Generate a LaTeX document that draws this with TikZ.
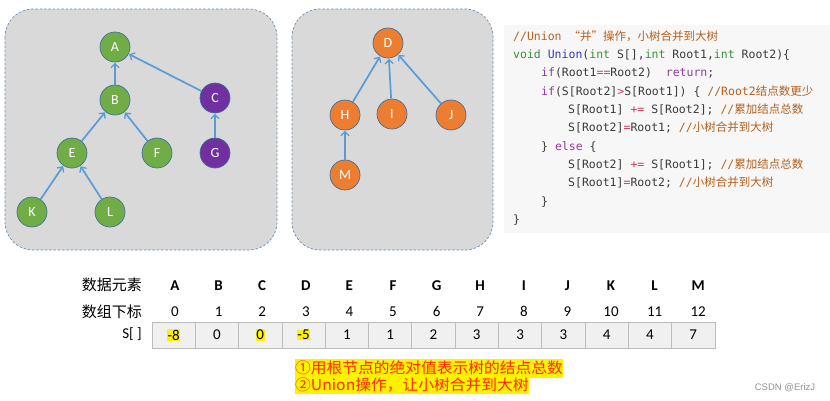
\documentclass[tikz,border=0pt]{standalone}
\usepackage{fontspec}
\setmainfont{Carlito}
\setmonofont{DejaVu Sans Mono}
\newfontfamily\cjkf{Noto Sans CJK SC}
\newfontfamily\cjkwide[FakeStretch=1.05]{Noto Sans CJK SC}
\newfontfamily\lsans{Liberation Sans}
\usetikzlibrary{arrows.meta}
\definecolor{panelfill}{HTML}{D9D9D9}
\definecolor{paneldraw}{HTML}{6A8DB5}
\definecolor{ngreen}{HTML}{70AD47}
\definecolor{npurple}{HTML}{7030A0}
\definecolor{norange}{HTML}{ED7D31}
\definecolor{nborder}{HTML}{41719C}
\definecolor{edgeblue}{HTML}{5B9BD5}
\definecolor{codebg}{HTML}{F7F7F7}
\definecolor{ctext}{HTML}{3A3A3A}
\definecolor{cgreen}{HTML}{3A8F3A}
\definecolor{cpurple}{HTML}{8E3B9E}
\definecolor{cblue}{HTML}{3535C8}
\definecolor{cred}{HTML}{D03A5C}
\definecolor{cbrown}{HTML}{B4601E}
\definecolor{cellfill}{HTML}{F0F0F0}
\definecolor{cellline}{HTML}{BDBDBD}
\definecolor{notered}{HTML}{FF2A00}
\newcommand\kwT[1]{\textcolor{cgreen}{#1}}
\newcommand\kwC[1]{\textcolor{cpurple}{#1}}
\newcommand\fnN[1]{\textcolor{cblue}{#1}}
\newcommand\opR[1]{\textcolor{cred}{#1}}
\newcommand\cmT[1]{\textcolor{cbrown}{#1}}
\newcommand\hlY[1]{{\setlength\fboxsep{0.6pt}\colorbox{yellow}{#1}}}
\tikzset{
  panel/.style={fill=panelfill, draw=paneldraw, line width=0.7pt, dash pattern=on 2.5pt off 1.8pt, rounded corners=28pt},
  tnode/.style={circle, minimum size=30pt, inner sep=0pt, draw=nborder, line width=0.7pt, text=white, font=\fontsize{14}{14}\selectfont},
  gnode/.style={tnode, fill=ngreen},
  pnode/.style={tnode, fill=npurple},
  onode/.style={tnode, fill=norange},
  edge/.style={draw=edgeblue, line width=1.7pt, -{Straight Barb[length=4pt,width=8pt,line width=1.3pt]}, shorten >=0.5pt},
  codeline/.style={anchor=west, inner sep=0pt, text=ctext, text height=9pt, text depth=3pt, font=\ttfamily\fontsize{11.5}{13}\selectfont},
  lbl/.style={anchor=east, inner sep=0pt, text=black, font=\cjkf\fontsize{15}{16}\selectfont},
  hdr/.style={inner sep=0pt, text height=10pt, text depth=0pt, font=\bfseries\fontsize{15}{15}\selectfont},
  idx/.style={inner sep=0pt, text height=10pt, text depth=0pt, font=\fontsize{15}{15}\selectfont},
  cell/.style={draw=cellline, fill=cellfill, line width=0.7pt, minimum width=43.3pt, minimum height=26pt, inner sep=0pt, font=\fontsize{15}{15}\selectfont},
  note/.style={anchor=west, fill=yellow, inner xsep=0pt, inner ysep=0pt, text=notered, font=\cjkwide\fontsize{15}{16}\selectfont},
  csdn/.style={inner sep=0pt, text=gray!85, font=\lsans\fontsize{9.5}{10}\selectfont}
}
\begin{document}
\begin{tikzpicture}[x=1pt,y=-1pt]
\useasboundingbox (0,0) rectangle (830,400);
\fill[white] (0,0) rectangle (830,400);
% panels
\draw[panel] (5,9) rectangle (277,250);
\draw[panel] (292,9) rectangle (493,250);
% left tree
\node[gnode] (A) at (115,47) {A};
\node[gnode] (B) at (115,100) {B};
\node[pnode] (C) at (215,98) {C};
\node[gnode] (E) at (72,153) {E};
\node[gnode] (F) at (157,153) {F};
\node[pnode] (G) at (215,153) {G};
\node[gnode] (K) at (32,212) {K};
\node[gnode] (L) at (110,212) {L};
\draw[edge] (B) -- (A);
\draw[edge] (C) -- (A);
\draw[edge] (E) -- (B);
\draw[edge] (F) -- (B);
\draw[edge] (G) -- (C);
\draw[edge] (K) -- (E);
\draw[edge] (L) -- (E);
% right tree
\node[onode] (D) at (388,43) {D};
\node[onode] (H) at (345,115) {H};
\node[onode] (I) at (392,114) {I};
\node[onode] (J) at (451,115) {J};
\node[onode] (M) at (345,175) {M};
\draw[edge] (H) -- (D);
\draw[edge] (I) -- (D);
\draw[edge] (J) -- (D);
\draw[edge] (M) -- (H);
% code
\fill[codebg] (504,25) rectangle (830,233);
\node[codeline] (l1) at (513,37) {\cmT{//Union {\cjkf “并”操作，小树合并到大树}}};
\node[codeline] (l2) at (513,55) {\kwT{void} \fnN{Union}(\kwT{int} S[],\kwT{int} Root1,\kwT{int} Root2)\{};
\node[codeline] (l3) at (541,73.5) {\kwC{if}(Root1\opR{==}Root2)\ \ \kwC{return};};
\node[codeline] (l4) at (541,92) {\kwC{if}(S[Root2]\opR{>}S[Root1]) \{ \cmT{//Root2{\cjkf 结点数更少}}};
\node[codeline] (l5) at (568,110) {S[Root1] \opR{+=} S[Root2]; \cmT{//{\cjkf 累加结点总数}}};
\node[codeline] (l6) at (568,128.5) {S[Root2]\opR{=}Root1; \cmT{//{\cjkf 小树合并到大树}}};
\node[codeline] (l7) at (541,147) {\} \kwC{else} \{};
\node[codeline] (l8) at (568,165) {S[Root2] \opR{+=} S[Root1]; \cmT{//{\cjkf 累加结点总数}}};
\node[codeline] (l9) at (568,183.5) {S[Root1]\opR{=}Root2; \cmT{//{\cjkf 小树合并到大树}}};
\node[codeline] (l10) at (541,202) {\}};
\node[codeline] (l11) at (513,220) {\}};
% table
\node[lbl] (r1) at (142,285) {数据元素};
\node[lbl] (r2) at (142,311.5) {数组下标};
\node[lbl, font=\fontsize{15}{15}\selectfont] (r3) at (142,334) {S[ ]};
\foreach \L [count=\i from 0] in {A,B,C,D,E,F,G,H,I,J,K,L,M}{
  \node[hdr] (h\i) at ({175+43.6*\i},285) {\L};
  \node[idx] (x\i) at ({175+43.6*\i},311) {\i};
}
\foreach \v [count=\i from 0] in {\hlY{-8},0,\hlY{0},\hlY{-5},1,1,2,3,3,3,4,4,7}{
  \node[cell] (c\i) at ({173.65+43.3*\i},335) {\v};
}
% note
\node[note, text height=14pt, text depth=5pt] (n1) at (295,368.5) {①用根节点的绝对值表示树的结点总数};
\node[note, text height=12pt, text depth=4pt] (n2) at (295,386) {②Union操作，让小树合并到大树};
\node[csdn] (wm) at (785,388) {CSDN @ErizJ};
\end{tikzpicture}
\end{document}
